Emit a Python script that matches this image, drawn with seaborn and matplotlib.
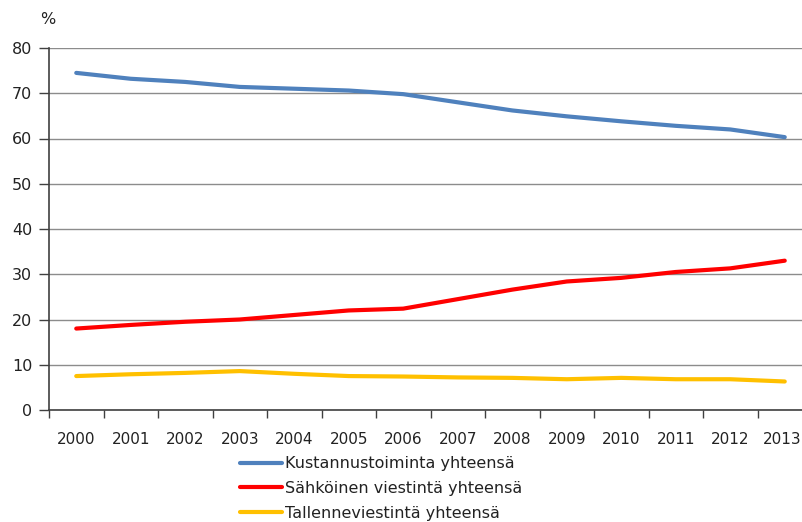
import matplotlib
matplotlib.use("Agg")
import matplotlib.pyplot as plt
from matplotlib.ticker import FixedLocator, NullFormatter, FixedFormatter
from matplotlib.transforms import ScaledTranslation
import numpy as np
import pandas as pd
import seaborn as sns

# data (%)
years = list(range(2000, 2014))
kustannus = [74.5, 73.2, 72.5, 71.4, 71.0, 70.6, 69.8, 68.0, 66.2, 64.9, 63.8, 62.8, 62.0, 60.3]
sahkoinen = [18.0, 18.8, 19.5, 20.0, 21.0, 22.0, 22.4, 24.5, 26.6, 28.4, 29.2, 30.5, 31.3, 33.0]
tallenne = [7.5, 7.9, 8.2, 8.6, 8.0, 7.5, 7.4, 7.2, 7.1, 6.8, 7.1, 6.8, 6.8, 6.3]
series_names = ["Kustannustoiminta yhteensä", "Sähköinen viestintä yhteensä",
                "Tallenneviestintä yhteensä"]
colors = ["#4F81BD", "#FF0000", "#FFC000"]

df = pd.DataFrame({
    "year": years * 3,
    "value": kustannus + sahkoinen + tallenne,
    "series": [series_names[0]] * 14 + [series_names[1]] * 14 + [series_names[2]] * 14,
})

sns.set_style("white")
plt.rcParams["font.family"] = ["DejaVu Sans"]
fs = 11.5

fig = plt.figure(figsize=(8.03, 5.22), dpi=100)
ax = fig.add_axes([49 / 803, 1 - 410 / 522, 754 / 803, (410 - 48) / 522])

sns.lineplot(data=df, x="year", y="value", hue="series", palette=colors,
             linewidth=3, ax=ax, legend=False, solid_capstyle="round")

# category axis, data points at category centres
ax.set_xlim(1999.5, 1999.5 + 754 / 54.5)
ax.set_ylim(0, 80)
ax.set_yticks(range(0, 81, 10))
ax.yaxis.grid(True, color="#8c8c8c", linewidth=1)
ax.set_axisbelow(True)

ax.xaxis.set_major_locator(FixedLocator([y - 0.5 for y in years] + [2013.5]))
ax.xaxis.set_major_formatter(NullFormatter())
ax.xaxis.set_minor_locator(FixedLocator(years))
ax.xaxis.set_minor_formatter(FixedFormatter([str(y) for y in years]))
ax.tick_params(axis="x", which="major", direction="out", length=6, width=1,
               color="#404040", bottom=True)
ax.tick_params(axis="x", which="minor", length=0, pad=16, labelsize=11,
               labelcolor="#222222")
ax.tick_params(axis="y", direction="out", length=7, width=1, color="#404040",
               left=True, labelsize=fs, labelcolor="#222222", pad=5)

# keep the last year label inside the figure
fig.canvas.draw()
last = ax.xaxis.get_minorticklabels()[-1]
last.set_transform(last.get_transform() + ScaledTranslation(-3 / 100, 0, fig.dpi_scale_trans))

for side in ["top", "right"]:
    ax.spines[side].set_visible(False)
for side in ["left", "bottom"]:
    ax.spines[side].set_color("#404040")
    ax.spines[side].set_linewidth(1.2)

ax.set_xlabel("")
ax.set_ylabel("")
fig.text(48 / 803, 1 - 20 / 522, "%", fontsize=fs, color="#222222",
         ha="center", va="center")

handles = [plt.Line2D([0], [0], color=c, linewidth=3) for c in colors]
fig.legend(handles, series_names, loc="upper left",
           bbox_to_anchor=(226 / 803, 1 - 442 / 522), frameon=False,
           fontsize=fs, handlelength=2.6, handletextpad=0.2,
           labelspacing=0.6, labelcolor="#222222")

fig.savefig("out.png", dpi=100)
